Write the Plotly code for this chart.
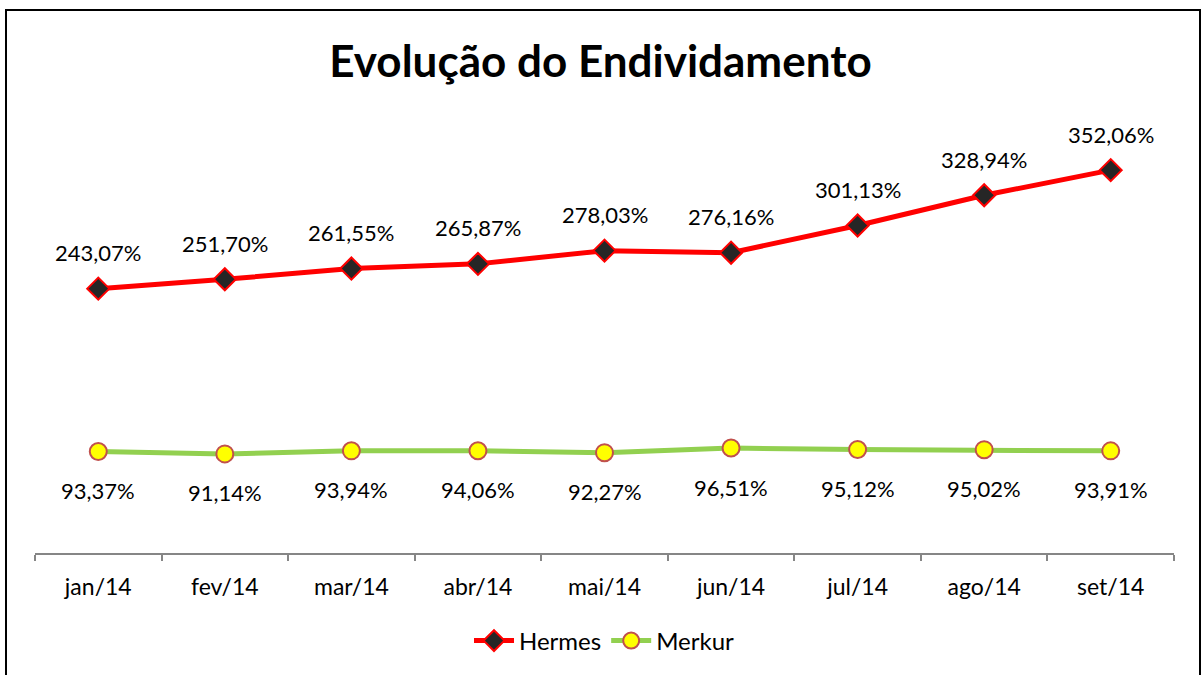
import plotly.graph_objects as go

months = ["jan/14", "fev/14", "mar/14", "abr/14", "mai/14", "jun/14", "jul/14", "ago/14", "set/14"]
hermes = [243.07, 251.70, 261.55, 265.87, 278.03, 276.16, 301.13, 328.94, 352.06]
merkur = [93.37, 91.14, 93.94, 94.06, 92.27, 96.51, 95.12, 95.02, 93.91]

def fmt(v):
    return f"{v:.2f}".replace(".", ",") + "%"

FONT = "Lato"
W, H = 1201, 675
ml, mr, mt, mb = 35, 27, 118, 122
pw, ph = W - ml - mr, H - mt - mb

def px2x(p):
    return (p - ml) / pw

def py2y(p):
    return (H - mb - p) / ph

fig = go.Figure()
fig.add_trace(go.Scatter(
    x=months, y=hermes, name="Hermes", mode="lines+markers",
    line=dict(color="#FF0000", width=5),
    marker=dict(symbol="diamond", size=17, color="#262626", line=dict(color="#FF0000", width=2)),
))
fig.add_trace(go.Scatter(
    x=months, y=merkur, name="Merkur", mode="lines+markers",
    line=dict(color="#92D050", width=5),
    marker=dict(symbol="circle", size=17, color="#FFFF00", line=dict(color="#C0504D", width=2)),
))

annotations = []
for m, v in zip(months, hermes):
    annotations.append(dict(x=m, y=v, text=fmt(v), showarrow=False, yshift=36,
                            font=dict(family=FONT, size=22, color="#000000")))
for m, v in zip(months, merkur):
    annotations.append(dict(x=m, y=v, text=fmt(v), showarrow=False, yshift=-39,
                            font=dict(family=FONT, size=22, color="#000000")))

fig.update_layout(
    width=W, height=H,
    margin=dict(l=ml, r=mr, t=mt, b=mb),
    paper_bgcolor="white", plot_bgcolor="white",
    title=dict(text="<b>Evolução do Endividamento</b>", x=0.5, xanchor="center",
               y=1 - 62 / H, yanchor="middle",
               font=dict(family=FONT, size=44, color="#000000")),
    showlegend=True,
    legend=dict(orientation="h", x=0.5, xanchor="center", y=py2y(641), yanchor="middle",
                font=dict(family=FONT, size=24, color="#000000"), itemwidth=40),
    xaxis=dict(range=[-0.5, 8.5], showgrid=False, showline=True, linecolor="#868686", linewidth=2,
               ticks="outside", tickson="boundaries", ticklen=6, tickcolor="#868686", tickwidth=2,
               tickfont=dict(family=FONT, size=23, color="#000000"), ticklabelstandoff=12,
               zeroline=False),
    yaxis=dict(range=[0, 400], visible=False, showgrid=False, zeroline=False),
    annotations=annotations,
    shapes=[dict(type="rect", xref="paper", yref="paper",
                 x0=px2x(6), x1=px2x(1200), y0=py2y(690), y1=py2y(10),
                 line=dict(color="#000000", width=2), fillcolor="rgba(0,0,0,0)", layer="below")],
)
fig.update_traces(cliponaxis=False)

fig.write_html("out.html", config={"displayModeBar": False},
               post_script="document.body.style.margin='0';")
